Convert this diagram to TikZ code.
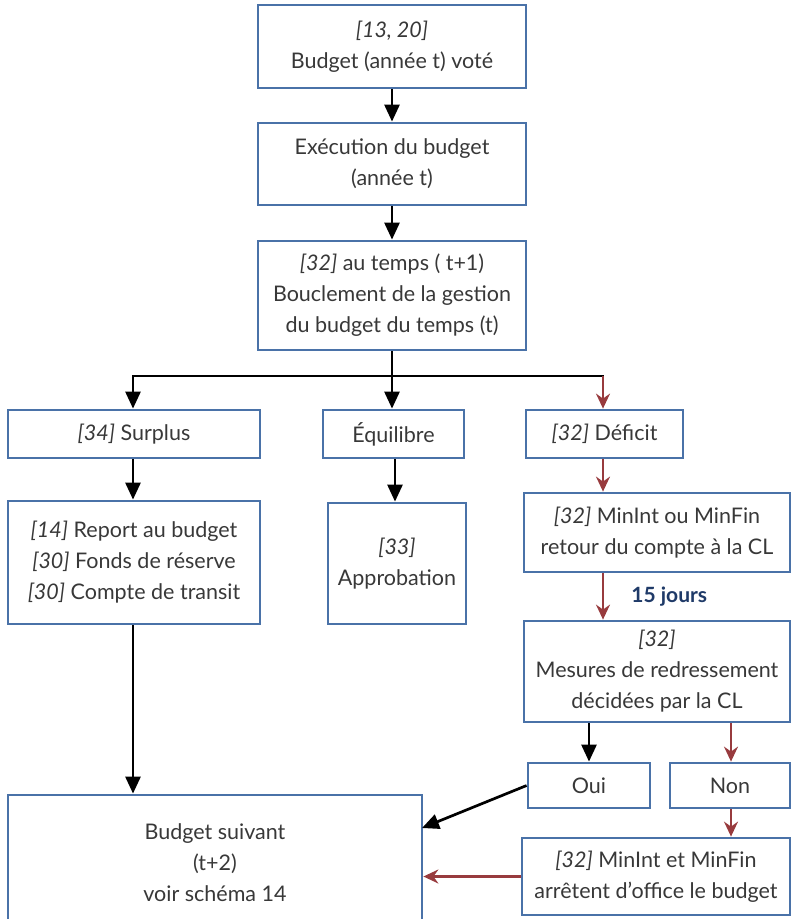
\documentclass[tikz,border=0pt]{standalone}
\usepackage{fontspec}
\setmainfont{Lato}
\usetikzlibrary{arrows.meta}
\definecolor{boxblue}{HTML}{4A72A8}
\definecolor{ink}{HTML}{383838}
\definecolor{redarrow}{HTML}{983B3E}
\definecolor{navy}{HTML}{1F3A68}
\tikzset{
  box/.style={draw=boxblue, line width=2.8pt, inner sep=0pt, align=center,
    text=ink, font=\fontsize{21.5}{31}\selectfont},
  blk/.style={draw=black, line width=2.7pt, -{Triangle[length=17pt,width=15pt]}},
  blkline/.style={draw=black, line width=2.7pt},
  redarr/.style={draw=redarrow, line width=2.2pt, -{Stealth[length=15pt,width=14pt,inset=5pt]}},
}
\newcommand{\refn}[1]{\textit{#1}}
\begin{document}
\begin{tikzpicture}[x=1pt,y=-1pt]
\useasboundingbox (0,0) rectangle (793,919);

% main chain
\node[box, minimum width=268pt, minimum height=83pt] (b1) at (392,46.5)
  {\refn{[13, 20]}\\Budget (année t) voté};
\node[box, minimum width=268pt, minimum height=82pt] (b2) at (392,164)
  {Exécution du budget\\(année t)};
\node[box, minimum width=268pt, minimum height=109pt] (b3) at (392,295.5)
  {\refn{[32]} au temps ( t+1)\\Bouclement de la gestion\\du budget du temps (t)};

% three outcomes
\node[box, minimum width=252pt, minimum height=48pt] (surplus) at (134,434)
  {\refn{[34]} Surplus};
\node[box, minimum width=141pt, minimum height=48pt] (equil) at (393.5,434)
  {Équilibre};
\node[box, minimum width=157pt, minimum height=48pt] (deficit) at (604.5,434)
  {\refn{[32]} Déficit};

\node[box, minimum width=252pt, minimum height=123pt] (report) at (134,562.5)
  {\refn{[14]} Report au budget\\\refn{[30]} Fonds de réserve\\\refn{[30]} Compte de transit};
\node[box, minimum width=138pt, minimum height=121pt] (approb) at (397,563.5)
  {\refn{[33]}\\Approbation};
\node[box, minimum width=266pt, minimum height=79pt] (minint) at (657,532.5)
  {\refn{[32]} MinInt ou MinFin\\retour du compte à la CL};
\node[box, minimum width=266pt, minimum height=101pt] (mesures) at (657,671.5)
  {\refn{[32]}\\Mesures de redressement\\décidées par la CL};

\node[box, minimum width=122pt, minimum height=45pt] (oui) at (589,785.5) {Oui};
\node[box, minimum width=120pt, minimum height=45pt] (non) at (730,785.5) {Non};

\node[box, minimum width=414pt, minimum height=135pt] (suivant) at (215,862.5)
  {Budget suivant\\(t+2)\\voir schéma 14};
\node[box, minimum width=268pt, minimum height=77pt] (arret) at (656,876.5)
  {\refn{[32]} MinInt et MinFin\\arrêtent d’office le budget};

% junction of the split
\coordinate (split) at (392,376);
\coordinate (splitL) at (133,376);
\coordinate (splitR) at (603,376);

\draw[blk] (b1) -- (b2);
\draw[blk] (b2) -- (b3);
\draw[blkline] (b3.south) -- (split);
\draw[blkline, line cap=rect] (splitL) -- (splitR);
\draw[blk] (splitL) -- (splitL |- surplus.north);
\draw[blk] (split) -- (split |- equil.north);
\draw[redarr] (splitR) -- (splitR |- deficit.north);

\draw[blk] (surplus.south -| splitL) -- (report.north -| splitL);
\draw[blk] (equil.south -| 395,0) -- (approb.north -| 395,0);
\draw[redarr] (deficit.south -| splitR) -- (minint.north -| splitR);
\draw[redarr] (minint.south -| splitR) -- (mesures.north -| splitR)
  node[midway, right=24pt, text=navy, font=\fontsize{21}{24}\selectfont\bfseries] {15 jours};

\draw[blk] (mesures.south -| oui) -- (oui.north);
\draw[redarr] (mesures.south -| 731,0) -- (non.north -| 731,0);
\draw[redarr] (non.south -| 731,0) -- (arret.north -| 731,0);

\draw[blk] (report.south -| splitL) -- (suivant.north -| splitL);
\coordinate (ouiIn) at (422,828);
\draw[blk] (oui.west) -- (ouiIn);
\draw[redarr] (arret.west) -- (arret.west -| suivant.east);
\end{tikzpicture}
\end{document}
